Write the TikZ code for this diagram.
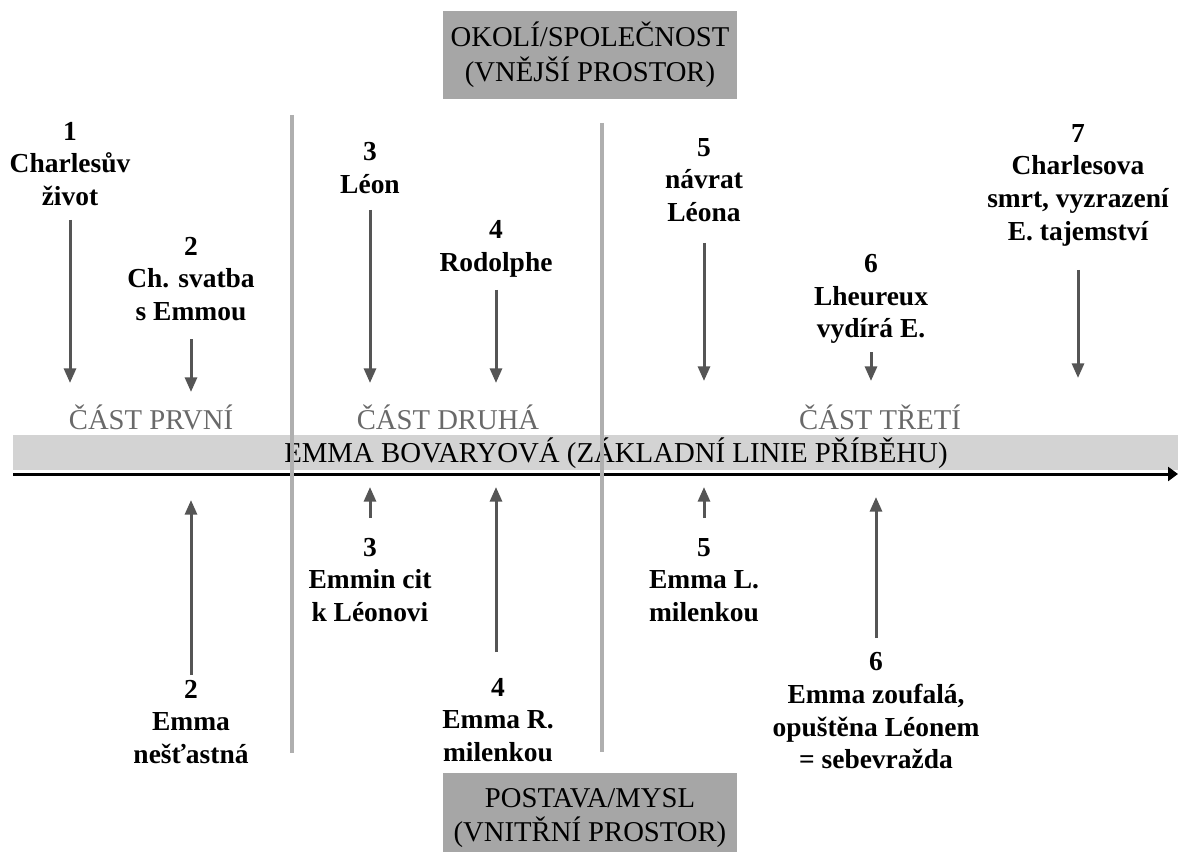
\documentclass[tikz,border=0pt]{standalone}
\usepackage{fontspec}
\setmainfont{Liberation Serif}
\usetikzlibrary{arrows.meta}
\definecolor{boxgray}{RGB}{166,166,166}
\definecolor{bandgray}{RGB}{211,211,211}
\definecolor{sepgray}{RGB}{175,175,175}
\definecolor{arrgray}{RGB}{85,85,85}
\definecolor{partgray}{RGB}{105,105,105}
\begin{document}
\begin{tikzpicture}[x=.75pt,y=-.75pt,
  lbl/.style={font=\fontsize{20.6}{24.5}\selectfont\bfseries,align=center,inner sep=0pt},
  part/.style={font=\fontsize{21.5}{24}\selectfont,text=partgray,inner sep=0pt},
  spacebox/.style={fill=boxgray,minimum width=220.5pt,minimum height=66pt,align=center,font=\fontsize{21.5}{26}\selectfont,inner sep=0pt},
  evarrow/.style={draw=arrgray,line width=2.25pt,-{Triangle[length=11pt,width=9pt]}},
  sepline/.style={draw=sepgray,line width=3pt}]
  \useasboundingbox (0,0) rectangle (1178,852);
  % spaces and the main story line
  \node[spacebox] (outer) at (590,55) {OKOLÍ/SPOLEČNOST\\(VNĚJŠÍ PROSTOR)};
  \node[spacebox,minimum height=67.5pt] (inner) at (590,818) {POSTAVA/MYSL\\(VNITŘNÍ PROSTOR)};
  \node[fill=bandgray,minimum width=874pt,minimum height=26.25pt,inner sep=0pt] (band) at (595.5,452.5) {};
  \node[font=\fontsize{21.6}{24}\selectfont,inner sep=0pt] (story) at (616,453) {EMMA BOVARYOVÁ (ZÁKLADNÍ LINIE PŘÍBĚHU)};
  \coordinate (axL) at (13,474); \coordinate (axR) at (1178,474);
  \draw[line width=2.25pt,-{Triangle[length=7.5pt,width=10.5pt]}] (axL) -- (axR);
  % parts
  \coordinate (s1a) at (292,115); \coordinate (s1b) at (292,753); \coordinate (s2a) at (602,123); \coordinate (s2b) at (602,752);
  \draw[sepline] (s1a) -- (s1b) (s2a) -- (s2b);
  \node[part] (p1) at (151,417) {ČÁST PRVNÍ}; \node[part] (p2) at (448,417) {ČÁST DRUHÁ}; \node[part] (p3) at (880,417) {ČÁST TŘETÍ};
  % outer events
  \node[lbl] (t1) at (70,164) {1\\Charlesův\\život};
  \node[lbl] (t2) at (191,279) {2\\Ch. svatba\\s Emmou};
  \node[lbl] (t3) at (370,168) {3\\Léon};
  \node[lbl] (t4) at (496,249) {4\\Rodolphe};
  \node[lbl] (t5) at (704,180) {5\\návrat\\Léona};
  \node[lbl] (t6) at (871,299) {6\\Lheureux\\vydírá E.};
  \node[lbl] (t7) at (1078,185) {7\\Charlesova\\smrt, vyzrazení\\E. tajemství};
  \coordinate (t1a) at (70,220); \coordinate (t1b) at (70,383); \coordinate (t2a) at (191,339); \coordinate (t2b) at (191,392);
  \coordinate (t3a) at (370,210); \coordinate (t3b) at (370,383); \coordinate (t4a) at (496,290); \coordinate (t4b) at (496,383);
  \coordinate (t5a) at (704,243); \coordinate (t5b) at (704,381); \coordinate (t6a) at (871,352); \coordinate (t6b) at (871,381);
  \coordinate (t7a) at (1078,270); \coordinate (t7b) at (1078,378);
  \foreach \i in {1,...,7} \draw[evarrow] (t\i a) -- (t\i b);
  % inner events
  \node[lbl] (b2) at (191,722) {2\\Emma\\nešťastná};
  \node[lbl] (b3) at (370,580) {3\\Emmin cit\\k Léonovi};
  \node[lbl] (b4) at (498,720) {4\\Emma R.\\milenkou};
  \node[lbl] (b5) at (704,580) {5\\Emma L.\\milenkou};
  \node[lbl] (b6) at (876,711) {6\\Emma zoufalá,\\opuštěna Léonem\\= sebevražda};
  \coordinate (b2a) at (191,675); \coordinate (b2b) at (191,500); \coordinate (b3a) at (370,518); \coordinate (b3b) at (370,487);
  \coordinate (b4a) at (496,652); \coordinate (b4b) at (496,487); \coordinate (b5a) at (704,518); \coordinate (b5b) at (704,487);
  \coordinate (b6a) at (876,638); \coordinate (b6b) at (876,497);
  \foreach \i in {2,...,6} \draw[evarrow] (b\i a) -- (b\i b);
\end{tikzpicture}
\end{document}
